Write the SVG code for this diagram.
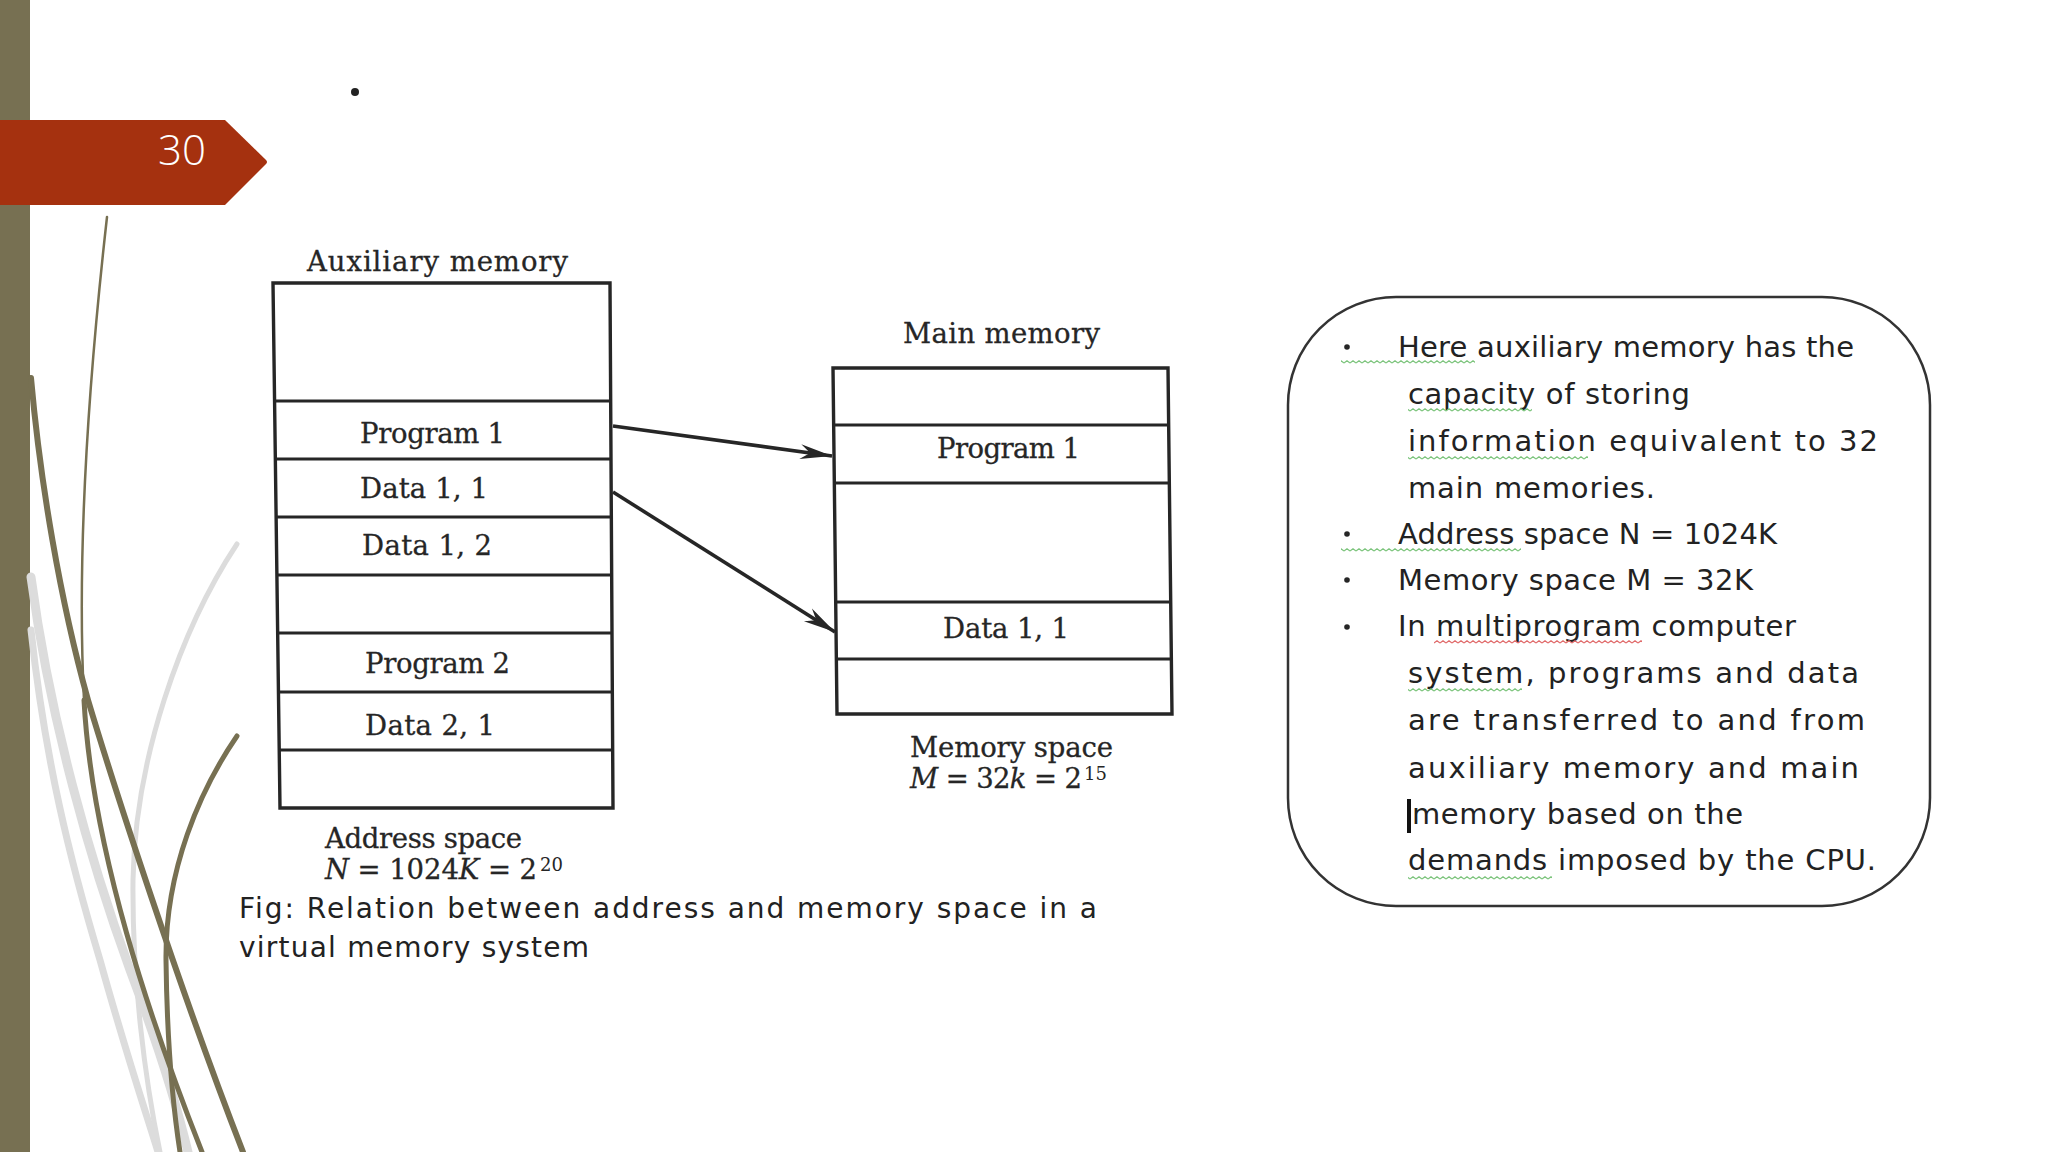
<svg xmlns="http://www.w3.org/2000/svg" width="2048" height="1152" viewBox="0 0 2048 1152">
  <style>
    .ser { font-family: "DejaVu Serif", "Liberation Serif", serif; font-size: 27.5px; fill: #262626; stroke: #262626; stroke-width: 0.3; }
    .ital { font-style: italic; }
    .sup { font-family: "DejaVu Serif", "Liberation Serif", serif; font-size: 18px; fill: #262626; }
    .box { fill: none; stroke: #262626; stroke-width: 3.4; stroke-linejoin: miter; }
    .div { stroke: #262626; stroke-width: 3; }
    .conn { stroke: #262626; stroke-width: 3.6; fill: none; }
    .note { font-family: "DejaVu Sans", "Open Sans", sans-serif; font-size: 29px; fill: #222222; }
    .cap { font-family: "DejaVu Sans", "Open Sans", sans-serif; font-size: 28px; fill: #222222; }
    .wisp-olive { fill: none; stroke: #777052; stroke-linecap: round; }
    .wisp-gray { fill: none; stroke: #dcdcdc; stroke-linecap: round; }
  </style>
  <defs>
    <marker id="dart" viewBox="-34 -9 36 18" refX="0" refY="0" markerWidth="36" markerHeight="18" markerUnits="userSpaceOnUse" orient="auto">
      <path d="M0,0 L-32,-7.5 L-22,0 L-32,7.5 Z" fill="#262626"/>
    </marker>
    <pattern id="wavyG" x="0" y="0" width="6" height="4" patternUnits="userSpaceOnUse">
      <path d="M0,3 L3,0.8 L6,3" fill="none" stroke="#7cc47c" stroke-width="1.2"/>
    </pattern>
    <pattern id="wavyR" x="0" y="0" width="6" height="4" patternUnits="userSpaceOnUse">
      <path d="M0,3 L3,0.8 L6,3" fill="none" stroke="#e06a6a" stroke-width="1.2"/>
    </pattern>
  </defs>

  <rect width="2048" height="1152" fill="#ffffff"/>

  <!-- left decoration -->
  <g id="decoration">
    <rect x="0" y="0" width="30" height="1152" fill="#777052"/>
    <path class="wisp-gray" stroke-width="9" d="M31,577 C50,720 90,860 130,970 C160,1050 178,1110 188,1152"/>
    <path class="wisp-gray" stroke-width="7" d="M31,630 C45,760 70,860 100,960 C125,1050 145,1110 158,1152"/>
    <path class="wisp-gray" stroke-width="5" d="M237,544 C180,630 135,760 133,880 C132,980 145,1080 160,1152"/>
    <path class="wisp-olive" stroke-width="6" d="M31,378 C40,480 60,600 88,700 C115,790 180,990 243,1152"/>
    <path class="wisp-olive" stroke-width="2.5" d="M107,217 C92,350 76,540 84,700"/>
    <path class="wisp-olive" stroke-width="5" d="M84,700 C92,850 150,1020 202,1152"/>
    <path class="wisp-olive" stroke-width="5" d="M237,736 C200,790 165,870 166,960 C167,1040 172,1100 180,1152"/>
  </g>

  <!-- slide number banner -->
  <g id="banner">
    <path d="M0,120 L225,120 L266,160 Q268,162 266,164 L225,205 L0,205 Z" fill="#a5310f"/>
    <text x="182" y="165" text-anchor="middle" font-family="Open Sans, Noto Sans, sans-serif" font-weight="300" font-size="42" fill="#ffffff">30</text>
  </g>

  <circle id="stray-bullet" cx="355" cy="92" r="4" fill="#222222"/>

  <!-- Auxiliary memory -->
  <g id="aux-memory">
    <text class="ser" x="307" y="271" textLength="261" lengthAdjust="spacing">Auxiliary memory</text>
    <path class="box" d="M273,283 L610,283 L613,808 L280,808 Z"/>
    <line class="div" x1="274.6" y1="401" x2="610.7" y2="401"/>
    <line class="div" x1="275.3" y1="459" x2="611" y2="459"/>
    <line class="div" x1="276.1" y1="517" x2="611.3" y2="517"/>
    <line class="div" x1="276.9" y1="575" x2="611.7" y2="575"/>
    <line class="div" x1="277.7" y1="633" x2="612" y2="633"/>
    <line class="div" x1="278.5" y1="692" x2="612.3" y2="692"/>
    <line class="div" x1="279.2" y1="750" x2="612.7" y2="750"/>
    <text class="ser" x="360" y="443" textLength="145" lengthAdjust="spacing">Program 1</text>
    <text class="ser" x="360" y="498" textLength="128" lengthAdjust="spacing">Data 1, 1</text>
    <text class="ser" x="362" y="555" textLength="130" lengthAdjust="spacing">Data 1, 2</text>
    <text class="ser" x="365" y="673" textLength="145" lengthAdjust="spacing">Program 2</text>
    <text class="ser" x="365" y="735" textLength="130" lengthAdjust="spacing">Data 2, 1</text>
    <text class="ser" x="325" y="848" textLength="197" lengthAdjust="spacing">Address space</text>
    <text class="ser" x="325" y="879" textLength="212" lengthAdjust="spacing"><tspan class="ital">N</tspan> = 1024<tspan class="ital">K</tspan> = 2</text>
    <text class="sup" x="540" y="871">20</text>
  </g>

  <!-- Main memory -->
  <g id="main-memory">
    <text class="ser" x="903" y="343" textLength="197" lengthAdjust="spacing">Main memory</text>
    <path class="box" d="M833,368 L1168,368 L1172,714 L837,714 Z"/>
    <line class="div" x1="833.7" y1="425" x2="1168.7" y2="425"/>
    <line class="div" x1="834.3" y1="483" x2="1169.3" y2="483"/>
    <line class="div" x1="835.7" y1="602" x2="1170.7" y2="602"/>
    <line class="div" x1="836.4" y1="659" x2="1171.4" y2="659"/>
    <text class="ser" x="937" y="458" textLength="143" lengthAdjust="spacing">Program 1</text>
    <text class="ser" x="943" y="638" textLength="126" lengthAdjust="spacing">Data 1, 1</text>
    <text class="ser" x="910" y="757" textLength="203" lengthAdjust="spacing">Memory space</text>
    <text class="ser" x="910" y="788" textLength="172" lengthAdjust="spacing"><tspan class="ital">M</tspan> = 32<tspan class="ital">k</tspan> = 2</text>
    <text class="sup" x="1084" y="780">15</text>
  </g>

  <!-- connectors -->
  <g id="connectors">
    <line class="conn" x1="613" y1="426" x2="832" y2="456" marker-end="url(#dart)"/>
    <line class="conn" x1="613" y1="492" x2="835" y2="632" marker-end="url(#dart)"/>
  </g>

  <!-- caption -->
  <g id="caption">
    <text class="cap" x="239" y="918" textLength="858" lengthAdjust="spacing">Fig: Relation between address and memory space in a</text>
    <text class="cap" x="239" y="957" textLength="350" lengthAdjust="spacing">virtual memory system</text>
  </g>

  <!-- notes box -->
  <g id="notes">
    <rect x="1288" y="297" width="642" height="609" rx="108" ry="108" fill="#ffffff" stroke="#333333" stroke-width="2.5"/>
    <circle cx="1347" cy="347" r="2.8" fill="#262626"/>
    <circle cx="1347" cy="534" r="2.8" fill="#262626"/>
    <circle cx="1347" cy="580" r="2.8" fill="#262626"/>
    <circle cx="1347" cy="627" r="2.8" fill="#262626"/>
    <text class="note" x="1398" y="357" textLength="456" lengthAdjust="spacing">Here auxiliary memory has the</text>
    <text class="note" x="1408" y="404" textLength="282" lengthAdjust="spacing">capacity of storing</text>
    <text class="note" x="1408" y="451" textLength="470" lengthAdjust="spacing">information equivalent to 32</text>
    <text class="note" x="1408" y="498" textLength="247" lengthAdjust="spacing">main memories.</text>
    <text class="note" x="1398" y="544" textLength="379" lengthAdjust="spacing">Address space N = 1024K</text>
    <text class="note" x="1398" y="590" textLength="355" lengthAdjust="spacing">Memory space M = 32K</text>
    <text class="note" x="1398" y="636" textLength="398" lengthAdjust="spacing">In multiprogram computer</text>
    <text class="note" x="1408" y="683" textLength="451" lengthAdjust="spacing">system, programs and data</text>
    <text class="note" x="1408" y="730" textLength="457" lengthAdjust="spacing">are transferred to and from</text>
    <text class="note" x="1408" y="778" textLength="451" lengthAdjust="spacing">auxiliary memory and main</text>
    <text class="note" x="1412" y="824" textLength="331" lengthAdjust="spacing">memory based on the</text>
    <text class="note" x="1408" y="870" textLength="468" lengthAdjust="spacing">demands imposed by the CPU.</text>
    <rect x="1407" y="799" width="4" height="34" fill="#111111"/>
    <rect x="1341" y="360" width="134" height="4" fill="url(#wavyG)"/>
    <rect x="1408" y="408" width="124" height="4" fill="url(#wavyG)"/>
    <rect x="1408" y="456" width="180" height="4" fill="url(#wavyG)"/>
    <rect x="1341" y="548" width="180" height="4" fill="url(#wavyG)"/>
    <rect x="1434" y="640" width="208" height="4" fill="url(#wavyR)"/>
    <rect x="1408" y="688" width="114" height="4" fill="url(#wavyG)"/>
    <rect x="1408" y="876" width="144" height="4" fill="url(#wavyG)"/>
  </g>
</svg>
